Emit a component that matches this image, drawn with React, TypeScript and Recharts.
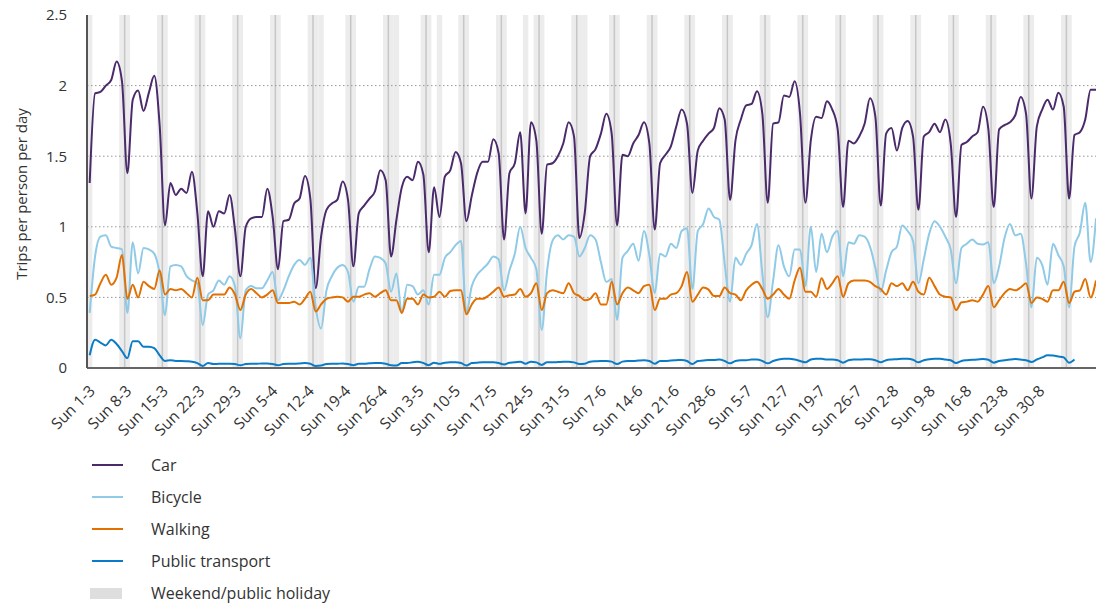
import { LineChart, Line, XAxis, YAxis, ReferenceArea, ReferenceLine } from 'recharts';

// one value per day, starting on Sunday 1 March
const TICK_LABELS = [
    'Sun 1-3', 'Sun 8-3', 'Sun 15-3', 'Sun 22-3', 'Sun 29-3', 'Sun 5-4', 'Sun 12-4', 'Sun 19-4', 'Sun 26-4',
    'Sun 3-5', 'Sun 10-5', 'Sun 17-5', 'Sun 24-5', 'Sun 31-5', 'Sun 7-6', 'Sun 14-6', 'Sun 21-6', 'Sun 28-6',
    'Sun 5-7', 'Sun 12-7', 'Sun 19-7', 'Sun 26-7', 'Sun 2-8', 'Sun 9-8', 'Sun 16-8', 'Sun 23-8', 'Sun 30-8',
];

const CAR = [
    1.31, 1.945, 1.955, 2.0, 2.04, 2.17, 2.03,
    1.38, 1.9, 1.965, 1.82, 1.95, 2.07, 1.72,
    1.01, 1.31, 1.225, 1.27, 1.24, 1.39, 1.1,
    0.65, 1.11, 1.0, 1.11, 1.095, 1.225, 0.98,
    0.65, 1.0, 1.06, 1.07, 1.07, 1.27, 1.07,
    0.7, 1.04, 1.05, 1.165, 1.2, 1.36, 1.2,
    0.565, 0.93, 1.12, 1.165, 1.19, 1.32, 1.19,
    0.72, 1.095, 1.15, 1.2, 1.25, 1.4, 1.33,
    0.79, 1.05, 1.28, 1.355, 1.33, 1.46, 1.37,
    0.82, 1.28, 1.07, 1.355, 1.4, 1.53, 1.45,
    1.04, 1.22, 1.38, 1.46, 1.46, 1.62, 1.52,
    0.91, 1.38, 1.45, 1.67, 1.095, 1.74, 1.61,
    0.95, 1.44, 1.45, 1.5, 1.59, 1.74, 1.64,
    0.92, 1.1, 1.5, 1.55, 1.66, 1.8, 1.66,
    1.01, 1.51, 1.5, 1.59, 1.65, 1.74, 1.59,
    0.98, 1.45, 1.51, 1.57, 1.71, 1.83, 1.73,
    1.24, 1.54, 1.61, 1.66, 1.7, 1.84, 1.76,
    1.19, 1.61, 1.76, 1.86, 1.87, 1.96, 1.8,
    1.17, 1.73, 1.74, 1.93, 1.92, 2.03, 1.8,
    1.17, 1.61, 1.78, 1.77, 1.89, 1.83, 1.69,
    1.14, 1.61, 1.59, 1.64, 1.73, 1.91, 1.78,
    1.15, 1.66, 1.7, 1.54, 1.7, 1.75, 1.64,
    1.12, 1.64, 1.67, 1.73, 1.67, 1.76, 1.59,
    1.07, 1.58, 1.6, 1.64, 1.67, 1.85, 1.69,
    1.14, 1.69, 1.72, 1.74, 1.79, 1.92, 1.8,
    1.2, 1.71, 1.83, 1.9, 1.83, 1.95, 1.85,
    1.2, 1.65, 1.67, 1.76, 1.97, 1.97,
];

const BICYCLE = [
    0.39, 0.79, 0.93, 0.94, 0.86, 0.85, 0.84,
    0.39, 0.89, 0.67, 0.85, 0.84, 0.81, 0.67,
    0.375, 0.72, 0.73, 0.72, 0.65, 0.62, 0.6,
    0.305, 0.52, 0.55, 0.62, 0.59, 0.65, 0.58,
    0.21, 0.55, 0.58, 0.565, 0.565, 0.62, 0.68,
    0.48, 0.55, 0.65, 0.73, 0.765, 0.73, 0.78,
    0.43, 0.28, 0.55, 0.65, 0.71, 0.73, 0.68,
    0.47, 0.576, 0.576, 0.7, 0.79, 0.78, 0.74,
    0.54, 0.67, 0.39, 0.59, 0.58, 0.52, 0.55,
    0.45, 0.66, 0.66, 0.78, 0.82, 0.87, 0.9,
    0.39, 0.58, 0.66, 0.7, 0.74, 0.79, 0.77,
    0.55, 0.69, 0.81, 1.0, 0.85, 0.78, 0.7,
    0.27, 0.69, 0.9, 0.94, 0.91, 0.94, 0.93,
    0.79, 0.85, 0.94, 0.91, 0.75, 0.61, 0.63,
    0.34, 0.78, 0.83, 0.88, 0.76, 0.97, 0.8,
    0.53, 0.81, 0.79, 0.88, 0.85, 0.97, 0.99,
    0.56, 0.97, 1.02, 1.13, 1.07, 1.05, 0.74,
    0.47, 0.78, 0.73, 0.81, 0.87, 1.02, 0.67,
    0.36, 0.62, 0.87, 0.72, 0.65, 0.84, 0.84,
    0.58, 1.0, 0.68, 0.95, 0.82, 0.93, 0.97,
    0.65, 0.89, 0.88, 0.94, 0.93, 0.86, 0.71,
    0.54, 0.69, 0.82, 0.86, 1.01, 0.97, 0.9,
    0.6, 0.77, 0.95, 1.04, 1.0, 0.93, 0.84,
    0.6, 0.85, 0.88, 0.91, 0.88, 0.875, 0.89,
    0.6, 0.72, 0.92, 1.02, 0.94, 0.95, 0.74,
    0.43, 0.78, 0.73, 0.59, 0.88, 0.8, 0.72,
    0.43, 0.86, 0.96, 1.17, 0.75, 1.06,
];

const WALKING = [
    0.51, 0.52, 0.6, 0.66, 0.59, 0.64, 0.8,
    0.49, 0.59, 0.5, 0.61, 0.58, 0.56, 0.69,
    0.52, 0.56, 0.55, 0.56, 0.53, 0.5, 0.64,
    0.48, 0.48, 0.52, 0.52, 0.52, 0.57, 0.52,
    0.41, 0.52, 0.56, 0.53, 0.5, 0.52, 0.55,
    0.46, 0.46, 0.46, 0.47, 0.45, 0.49, 0.54,
    0.4, 0.45, 0.49, 0.5, 0.505, 0.5, 0.47,
    0.505, 0.505, 0.52, 0.53, 0.505, 0.53, 0.55,
    0.48, 0.48, 0.39, 0.49, 0.49, 0.45, 0.52,
    0.5, 0.505, 0.54, 0.505, 0.545, 0.55, 0.55,
    0.38, 0.45, 0.49, 0.49, 0.51, 0.54, 0.57,
    0.505, 0.515, 0.52, 0.56, 0.505, 0.53, 0.6,
    0.41, 0.53, 0.55, 0.54, 0.53, 0.6, 0.53,
    0.51, 0.48, 0.49, 0.53, 0.45, 0.45, 0.61,
    0.45, 0.53, 0.57, 0.55, 0.53, 0.58, 0.59,
    0.41, 0.49, 0.49, 0.52, 0.53, 0.58, 0.68,
    0.47, 0.52, 0.57, 0.555, 0.51, 0.51, 0.57,
    0.53, 0.52, 0.48, 0.55, 0.59, 0.61, 0.56,
    0.49, 0.52, 0.56, 0.52, 0.49, 0.62, 0.71,
    0.54, 0.54, 0.505, 0.635, 0.56, 0.6, 0.65,
    0.505, 0.6, 0.62, 0.62, 0.62, 0.61, 0.58,
    0.56, 0.52, 0.6, 0.58, 0.6, 0.55, 0.61,
    0.54, 0.52, 0.64, 0.58, 0.52, 0.505, 0.5,
    0.41, 0.465, 0.47, 0.48, 0.47, 0.52, 0.58,
    0.43, 0.48, 0.53, 0.56, 0.55, 0.57, 0.6,
    0.46, 0.5, 0.49, 0.47, 0.55, 0.55, 0.61,
    0.46, 0.54, 0.55, 0.63, 0.5, 0.62,
];

// public transport stops on Monday 31-8
const PUBLIC_TRANSPORT = [
    0.09, 0.2, 0.18, 0.16, 0.2, 0.17, 0.12,
    0.07, 0.19, 0.19, 0.15, 0.15, 0.14, 0.09,
    0.05, 0.055, 0.05, 0.05, 0.048, 0.045, 0.035,
    0.015, 0.035, 0.028, 0.03, 0.03, 0.03, 0.028,
    0.02, 0.028, 0.03, 0.03, 0.032, 0.032, 0.028,
    0.02, 0.028, 0.03, 0.03, 0.032, 0.035, 0.03,
    0.015, 0.018, 0.028, 0.03, 0.03, 0.032, 0.028,
    0.02, 0.03, 0.03, 0.033, 0.035, 0.035, 0.03,
    0.02, 0.017, 0.035, 0.035, 0.04, 0.045, 0.035,
    0.02, 0.038, 0.03, 0.038, 0.04, 0.04, 0.035,
    0.017, 0.035, 0.038, 0.04, 0.04, 0.04, 0.035,
    0.025, 0.038, 0.04, 0.045, 0.03, 0.045, 0.04,
    0.022, 0.04, 0.04, 0.042, 0.045, 0.045, 0.04,
    0.028, 0.03, 0.045, 0.048, 0.05, 0.05, 0.045,
    0.028, 0.045, 0.05, 0.05, 0.053, 0.055, 0.05,
    0.03, 0.05, 0.05, 0.053, 0.055, 0.057, 0.05,
    0.028, 0.05, 0.053, 0.057, 0.057, 0.06, 0.05,
    0.033, 0.05, 0.055, 0.055, 0.06, 0.06, 0.05,
    0.033, 0.05, 0.06, 0.065, 0.065, 0.06, 0.05,
    0.04, 0.06, 0.065, 0.065, 0.06, 0.06, 0.055,
    0.038, 0.055, 0.06, 0.06, 0.062, 0.062, 0.055,
    0.04, 0.055, 0.06, 0.062, 0.065, 0.065, 0.058,
    0.04, 0.055, 0.062, 0.065, 0.065, 0.06, 0.055,
    0.035, 0.05, 0.055, 0.058, 0.06, 0.063, 0.058,
    0.038, 0.05, 0.055, 0.06, 0.063, 0.06, 0.055,
    0.043, 0.06, 0.075, 0.09, 0.088, 0.082, 0.075,
    0.038, 0.06,
];

// public holidays as day numbers (Easter Monday, King's Day, Liberation Day, Ascension, Whit Monday)
const HOLIDAYS = [43, 57, 65, 81, 92];

const Y_TICKS = [0, 0.5, 1, 1.5, 2, 2.5];
const GRID_VALUES = [0.5, 1, 1.5, 2];

const SERIES = [
    { key: 'car', name: 'Car', color: '#4a2a6b' },
    { key: 'bicycle', name: 'Bicycle', color: '#8fcae7' },
    { key: 'walking', name: 'Walking', color: '#e17000' },
    { key: 'publicTransport', name: 'Public transport', color: '#0a7bc7' },
];

const data = CAR.map((car, i) => ({
    day: i + 0.5,
    car,
    bicycle: BICYCLE[i],
    walking: WALKING[i],
    publicTransport: i < PUBLIC_TRANSPORT.length ? PUBLIC_TRANSPORT[i] : null,
}));

const sundays = TICK_LABELS.map((_, i) => i * 7);

// Saturday + Sunday blocks, plus the holidays
const shaded = [
    ...sundays.map(s => (s === 0 ? [0, 1] : [s - 1, s + 1])),
    ...HOLIDAYS.map(d => [d, d + 1]),
];

const FONT = '"Open Sans", "Noto Sans", sans-serif';

const DateTick = ({ x, y, payload }: any) => {
    const idx = Math.round(payload.value / 7);
    const ax = x + 9 - idx * 1.15;
    const ay = y + 24;
    return (
        <text
            transform={`translate(${ax},${ay}) rotate(-45)`}
            textAnchor="end"
            fontSize={15.5}
            fontFamily={FONT}
            fill="#333"
        >
            {TICK_LABELS[idx]}
        </text>
    );
};

const YTitle = () => (
    <text
        x={27}
        y={194}
        transform="rotate(-90 27 194)"
        textAnchor="middle"
        fontSize={15}
        fontFamily={FONT}
        fill="#333"
    >
        Trips per person per day
    </text>
);

export default function App() {
    return (
        <div style={{ position: 'absolute', left: 0, top: 0, width: 1096, height: 605, background: '#fff', fontFamily: FONT }}>
            <LineChart width={1096} height={440} data={data} margin={{ top: 15, right: 0, bottom: 12, left: 0 }}>
                {shaded.map(([a, b], i) => (
                    <ReferenceArea key={`band-${i}`} x1={a} x2={b} fill="#ececec" fillOpacity={1} stroke="none" />
                ))}
                {sundays.map(s => (
                    <ReferenceLine key={`sun-${s}`} x={s} stroke="#c6c6c6" strokeWidth={1.5} />
                ))}
                {GRID_VALUES.map(v => (
                    <ReferenceLine key={`grid-${v}`} y={v} stroke="#999" strokeDasharray="1.5 2.5" strokeWidth={1} />
                ))}
                <XAxis
                    type="number"
                    dataKey="day"
                    domain={[0, 187.5]}
                    ticks={sundays}
                    interval={0}
                    allowDataOverflow
                    height={60}
                    tickLine={false}
                    tickSize={0}
                    tickMargin={0}
                    axisLine={{ stroke: '#666', strokeWidth: 2 }}
                    tick={<DateTick />}
                />
                <YAxis
                    domain={[0, 2.5]}
                    ticks={Y_TICKS}
                    interval={0}
                    width={87}
                    tickLine={false}
                    tickSize={0}
                    tickMargin={20}
                    axisLine={{ stroke: '#555', strokeWidth: 2 }}
                    tick={{ fontSize: 15, fill: '#333', fontFamily: FONT }}
                    label={YTitle}
                />
                {SERIES.map(s => (
                    <Line
                        key={s.key}
                        type="monotone"
                        dataKey={s.key}
                        name={s.name}
                        stroke={s.color}
                        strokeWidth={2}
                        dot={false}
                        activeDot={false}
                        isAnimationActive={false}
                    />
                ))}
            </LineChart>

            {/* legend */}
            <div style={{ position: 'absolute', left: 90, top: 449, color: '#333', fontSize: 16 }}>
                {SERIES.map(s => (
                    <div key={s.key} style={{ display: 'flex', alignItems: 'center', height: 32 }}>
                        <div style={{ width: 31, height: 2, marginLeft: 2, background: s.color }} />
                        <span style={{ marginLeft: 28 }}>{s.name}</span>
                    </div>
                ))}
                <div style={{ display: 'flex', alignItems: 'center', height: 32 }}>
                    <div style={{ width: 32, height: 11, background: '#dedede' }} />
                    <span style={{ marginLeft: 29 }}>Weekend/public holiday</span>
                </div>
            </div>
        </div>
    );
}
